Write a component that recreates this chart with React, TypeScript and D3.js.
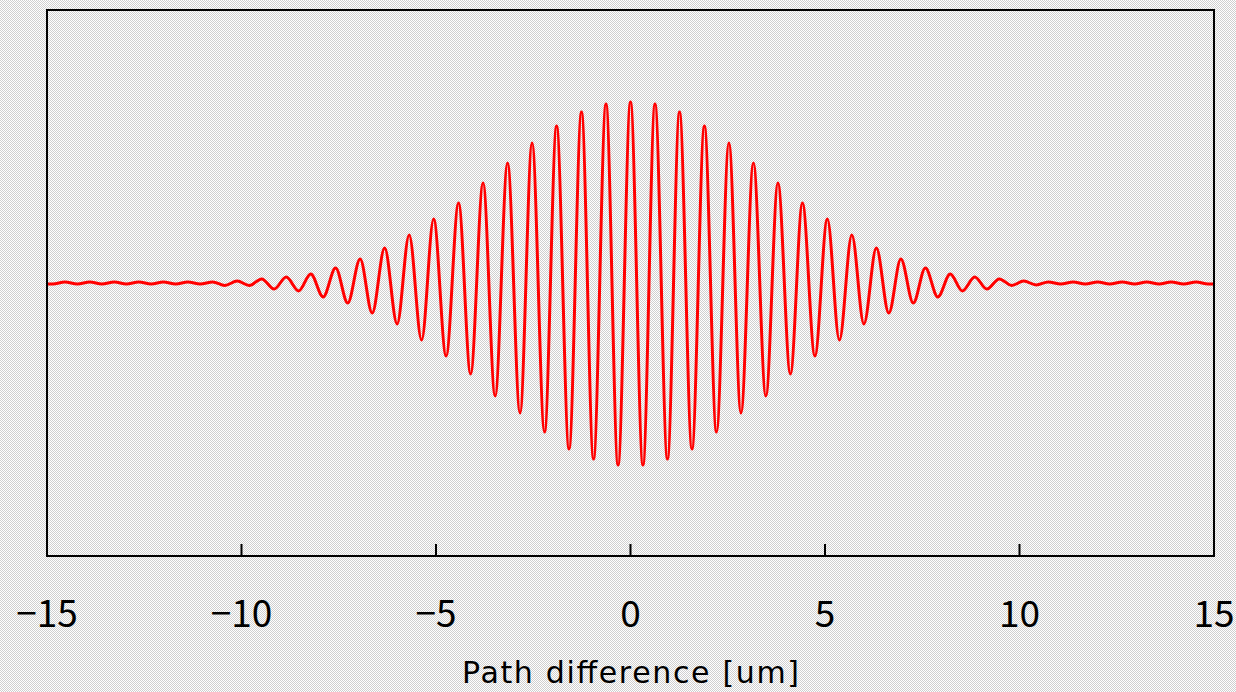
import * as d3 from "d3";

// fringe extrema (path difference in um, normalized intensity)
const PEAK_X = [
  -14.54, -13.9, -13.27, -12.64, -12.01, -11.38, -10.74, -10.11, -9.48, -8.85, -8.22, -7.58,
  -6.95, -6.32, -5.69, -5.06, -4.42, -3.79, -3.16, -2.53, -1.9, -1.26, -0.63, 0, 0.63, 1.26,
  1.9, 2.53, 3.16, 3.79, 4.42, 5.06, 5.69, 6.32, 6.95, 7.58, 8.22, 8.85, 9.48, 10.11, 10.74,
  11.38, 12.01, 12.64, 13.27, 13.9, 14.54,
];
const PEAK_Y = [
  0.004, 0.004, 0.004, 0.004, 0.004, 0.004, 0.004, 0.007, 0.015, 0.022, 0.033, 0.055, 0.088,
  0.128, 0.176, 0.234, 0.293, 0.366, 0.44, 0.513, 0.575, 0.626, 0.656, 0.663, 0.656, 0.626,
  0.575, 0.513, 0.44, 0.366, 0.293, 0.234, 0.176, 0.128, 0.088, 0.055, 0.033, 0.022, 0.015,
  0.007, 0.004, 0.004, 0.004, 0.004, 0.004, 0.004, 0.004,
];
const TROUGH_X = [
  -14.85, -14.22, -13.59, -12.96, -12.32, -11.69, -11.06, -10.43, -9.8, -9.16, -8.53, -7.9,
  -7.27, -6.64, -6.0, -5.37, -4.74, -4.11, -3.48, -2.84, -2.21, -1.58, -0.95, -0.32, 0.32,
  0.95, 1.58, 2.21, 2.84, 3.48, 4.11, 4.74, 5.37, 6.0, 6.64, 7.27, 7.9, 8.53, 9.16, 9.8, 10.43,
  11.06, 11.69, 12.32, 12.96, 13.59, 14.22, 14.85,
];
const TROUGH_Y = [
  -0.004, -0.004, -0.004, -0.004, -0.004, -0.004, -0.004, -0.009, -0.009, -0.022, -0.029,
  -0.051, -0.073, -0.11, -0.15, -0.209, -0.267, -0.333, -0.414, -0.476, -0.546, -0.608,
  -0.645, -0.667, -0.667, -0.645, -0.608, -0.546, -0.476, -0.414, -0.333, -0.267, -0.209,
  -0.15, -0.11, -0.073, -0.051, -0.029, -0.022, -0.009, -0.007, -0.004, -0.004, -0.004,
  -0.004, -0.004, -0.004, -0.004,
];
const END_X = [-15, 15];
const END_Y = [-0.004, -0.004];

const TICKS = [-15, -10, -5, 0, 5, 10, 15];
const X_TITLE = "Path difference [um]";

const W = 1236;
const H = 692;
const left = 47;
const right = 1214;
const top = 10;
const bottom = 556;

export default function App() {
  const x = d3.scaleLinear().domain([-15, 15]).range([left, right]);
  const y = d3.scaleLinear().domain([-1, 1]).range([bottom, top]);

  const points = [
    ...PEAK_X.map((v, i) => [v, PEAK_Y[i]]),
    ...TROUGH_X.map((v, i) => [v, TROUGH_Y[i]]),
    ...END_X.map((v, i) => [v, END_Y[i]]),
  ].sort((a, b) => a[0] - b[0]);

  const line = d3
    .line<number[]>()
    .x((d) => x(d[0]))
    .y((d) => y(d[1]))
    .curve(d3.curveMonotoneX);

  const fmt = (v: number) => (v < 0 ? "\u2212" + Math.abs(v) : String(v));

  return (
    <svg
      width={W}
      height={H}
      style={{ position: "absolute", left: 0, top: 0 }}
      fontFamily="'Noto Sans CJK JP', 'Noto Sans', sans-serif"
    >
      <defs>
        <pattern id="dots" width="2" height="2" patternUnits="userSpaceOnUse">
          <rect width="2" height="2" fill="#ffffff" />
          <rect x="0" y="0" width="1" height="1" fill="#cfcfcf" />
          <rect x="1" y="1" width="1" height="1" fill="#cfcfcf" />
        </pattern>
      </defs>
      <rect width={W} height={H} fill="url(#dots)" shapeRendering="crispEdges" />

      <path d={line(points) ?? ""} fill="none" stroke="#ff0000" strokeWidth={3} strokeLinejoin="round" />

      {TICKS.slice(1, -1).map((t) => (
        <line key={t} x1={x(t)} x2={x(t)} y1={bottom} y2={bottom - 12} stroke="#000" strokeWidth={2} />
      ))}
      <rect
        x={left}
        y={top}
        width={right - left}
        height={bottom - top}
        fill="none"
        stroke="#000"
        strokeWidth={2}
      />

      {TICKS.map((t) => (
        <text key={t} x={x(t)} y={627} textAnchor="middle" fontSize={37} fill="#000">
          {fmt(t)}
        </text>
      ))}
      <text
        x={(left + right) / 2}
        y={683}
        textAnchor="middle"
        fontSize={30}
        fontFamily="'DejaVu Sans', sans-serif"
        textLength={337}
        lengthAdjust="spacing"
        fill="#000"
      >
        {X_TITLE}
      </text>
    </svg>
  );
}
